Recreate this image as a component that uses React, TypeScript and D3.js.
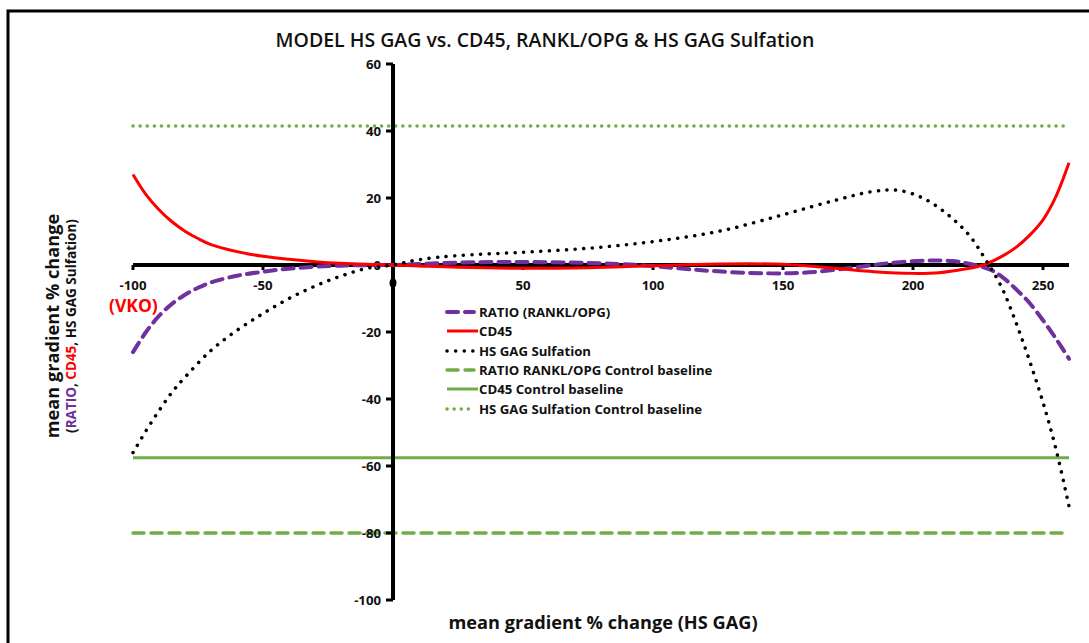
import React from "react";
import * as d3 from "d3";

// ---- data ----
const cd45X = [-100, -95, -90, -85, -80, -75, -70, -60, -50, -40, -30, -20, -10, 0, 10, 25, 50, 75, 100, 125, 150, 170, 185, 200, 210, 220, 227, 234, 240, 245, 250, 255, 260];
const cd45Y = [27, 21.0, 16.5, 12.9, 10.1, 7.9, 6.1, 4.0, 2.6, 1.7, 1.0, 0.5, 0.2, 0, -0.3, -0.7, -1.0, -0.8, -0.2, 0.3, 0.2, -1.0, -2.0, -2.5, -2.3, -1.2, 0, 2.5, 5.5, 9, 13.5, 20.5, 30.5];

const ratioX = [-100, -95, -90, -85, -80, -75, -70, -60, -50, -40, -30, -20, -10, 0, 10, 25, 50, 75, 95, 110, 125, 145, 160, 175, 190, 205, 215, 222, 230, 235, 240, 245, 250, 255, 260];
const ratioY = [-26, -20.0, -15.2, -11.6, -8.9, -6.8, -5.2, -3.2, -2.0, -1.1, -0.5, -0.2, -0.05, 0, 0.3, 0.7, 0.9, 0.6, 0, -1.0, -1.9, -2.5, -2.2, -1.0, 0.5, 1.3, 1.2, 0.3, -1.5, -4, -7.5, -11.5, -16.5, -22, -28];

const sulfX = [-100, -95, -90, -85, -80, -70, -60, -50, -40, -30, -20, -10, 0, 10, 25, 50, 75, 100, 125, 150, 170, 185, 195, 205, 215, 222, 228, 234, 240, 245, 250, 255, 260];
const sulfY = [-56, -49.5, -43.5, -38, -33.5, -25.5, -19.5, -14.5, -10, -6.3, -3.3, -1, 0, 1.6, 2.8, 3.8, 5, 7, 10, 15, 19.3, 22, 22.2, 19.5, 14, 8.5, 1.5, -6.5, -18, -29, -41, -55, -72];

const baselineRatio = -80;
const baselineCD45 = -57.5;
const baselineSulf = 41.5;

const xTicks = [-100, -50, 50, 100, 150, 200, 250];
const yTicks = [60, 40, 20, 0, -20, -40, -60, -80, -100];
const xMin = -100;
const xMax = 260;

const legendLabels = [
  "RATIO (RANKL/OPG)",
  "CD45",
  "HS GAG Sulfation",
  "RATIO RANKL/OPG Control baseline",
  "CD45 Control baseline",
  "HS GAG Sulfation Control baseline",
];

const PURPLE = "#7030A0";
const RED = "#FF0000";
const GREEN = "#70AD47";
const BLACK = "#000";
const FONT = "'Open Sans', 'DejaVu Sans', sans-serif";

const styles = [
  { stroke: PURPLE, width: 4, dash: "11 7", cap: "round" },
  { stroke: RED, width: 3, dash: "", cap: "butt" },
  { stroke: BLACK, width: 3.5, dash: "0.1 8.5", cap: "round" },
  { stroke: GREEN, width: 3.5, dash: "11 7", cap: "round" },
  { stroke: GREEN, width: 3, dash: "", cap: "butt" },
  { stroke: GREEN, width: 3.5, dash: "0.1 7", cap: "round" },
];

export default function App() {
  const x = d3.scaleLinear().domain([-100, 250]).range([133, 1043]);
  const y = d3.scaleLinear().domain([-100, 60]).range([600, 64]);

  const line = d3
    .line<[number, number]>()
    .x((d) => x(d[0]))
    .y((d) => y(d[1]))
    .curve(d3.curveCatmullRom.alpha(0.5));

  const zip = (a: number[], b: number[]) => a.map((v, i) => [v, b[i]] as [number, number]);

  const series = [
    { d: line(zip(ratioX, ratioY)), s: styles[0] },
    { d: line(zip(cd45X, cd45Y)), s: styles[1] },
    { d: line(zip(sulfX, sulfY)), s: styles[2] },
  ];
  const baselines = [
    { v: baselineRatio, s: styles[3] },
    { v: baselineCD45, s: styles[4] },
    { v: baselineSulf, s: styles[5] },
  ];

  const legendY = [312, 331, 351, 370, 389, 409];

  return (
    <svg
      width={1089}
      height={643}
      style={{ position: "absolute", left: 0, top: 0, background: "#fff" }}
      fontFamily={FONT}
    >
      <rect x={0} y={0} width={1089} height={643} fill="#fff" />
      {/* outer frame */}
      <rect x={8} y={11} width={1090} height={650} fill="none" stroke="#000" strokeWidth={3} />

      {/* title */}
      <text x={545} y={47} textAnchor="middle" fontSize={19.5} fontWeight={600} fill="#111">
        MODEL HS GAG vs. CD45, RANKL/OPG &amp; HS GAG Sulfation
      </text>

      {/* baselines */}
      {baselines.map((b, i) => (
        <line
          key={"b" + i}
          x1={x(xMin)}
          x2={x(xMax)}
          y1={y(b.v)}
          y2={y(b.v)}
          stroke={b.s.stroke}
          strokeWidth={b.s.width}
          strokeDasharray={b.s.dash || undefined}
          strokeLinecap={b.s.cap as any}
        />
      ))}

      {/* axes */}
      <line x1={x(xMin)} x2={x(xMax)} y1={y(0)} y2={y(0)} stroke="#000" strokeWidth={4} />
      {xTicks.map((t) => (
        <g key={"xt" + t}>
          <line x1={x(t)} x2={x(t)} y1={y(0)} y2={y(0) + 5} stroke="#000" strokeWidth={3} />
          <text x={x(t)} y={y(0) + 25} textAnchor="middle" fontSize={13.2} fontWeight={700} fill="#111">
            {t}
          </text>
        </g>
      ))}
      <line x1={x(0)} x2={x(0)} y1={y(60)} y2={y(-100)} stroke="#000" strokeWidth={4} />
      {yTicks.map((t) => (
        <g key={"yt" + t}>
          <line x1={x(0) - 7} x2={x(0)} y1={y(t)} y2={y(t)} stroke="#000" strokeWidth={3} />
          <text x={x(0) - 12} y={y(t) + 4.5} textAnchor="end" fontSize={13.2} fontWeight={700} fill="#111">
            {t}
          </text>
        </g>
      ))}
      <ellipse cx={x(0)} cy={y(0) + 18} rx={3.5} ry={5} fill="#000" />

      {/* series */}
      {series.map((sr, i) => (
        <path
          key={"s" + i}
          d={sr.d || ""}
          fill="none"
          stroke={sr.s.stroke}
          strokeWidth={sr.s.width}
          strokeDasharray={sr.s.dash || undefined}
          strokeLinecap={sr.s.cap as any}
        />
      ))}

      {/* VKO */}
      <text x={109} y={312} fontSize={17.5} fontWeight={700} fill={RED}>
        (VKO)
      </text>

      {/* legend */}
      {legendLabels.map((lab, i) => {
        const s = styles[i];
        const ly = legendY[i];
        const solid = !s.dash;
        return (
          <g key={"lg" + i}>
            <line
              x1={447}
              x2={solid ? 478 : 474}
              y1={ly}
              y2={ly}
              stroke={s.stroke}
              strokeWidth={s.width}
              strokeDasharray={s.dash || undefined}
              strokeLinecap={s.cap as any}
            />
            <text x={479} y={ly + 4.5} fontSize={13.2} fontWeight={700} fill="#111">
              {lab}
            </text>
          </g>
        );
      })}

      {/* axis titles */}
      <text x={603} y={629} textAnchor="middle" fontSize={18.2} fontWeight={700} fill="#111">
        mean gradient % change (HS GAG)
      </text>
      <text transform="translate(59,326) rotate(-90)" textAnchor="middle" fontSize={18.2} fontWeight={700} fill="#111">
        mean gradient % change
      </text>
      <text transform="translate(76,326) rotate(-90)" textAnchor="middle" fontSize={13.5} fontWeight={700} fill="#111">
        (<tspan fill={PURPLE}>RATIO</tspan>, <tspan fill={RED}>CD45</tspan>, HS GAG Sulfation)
      </text>
    </svg>
  );
}
